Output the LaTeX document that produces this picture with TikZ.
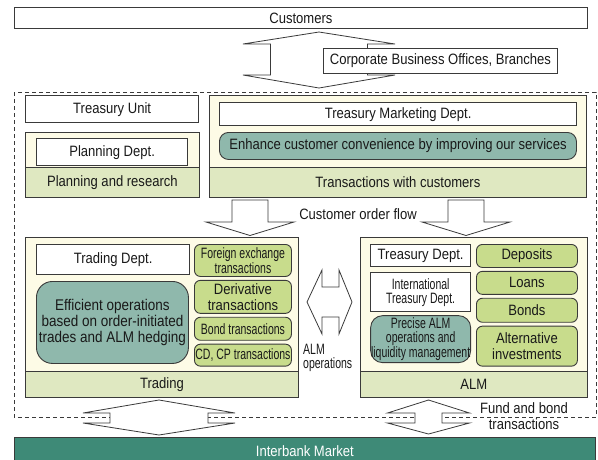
\documentclass[tikz,border=0pt]{standalone}
\usepackage{fontspec}
\setmainfont{Liberation Sans}[FakeStretch=0.87]
\newfontfamily\narrowfont{Liberation Sans}[FakeStretch=0.70]
\usetikzlibrary{positioning}
\definecolor{edge}{HTML}{3A3A3A}
\definecolor{cream}{HTML}{FDFBE6}
\definecolor{bandgreen}{HTML}{DFE8C1}
\definecolor{itemgreen}{HTML}{C8DC8C}
\definecolor{tealfill}{HTML}{8FB8AC}
\definecolor{marketteal}{HTML}{3E8A77}
\newcommand{\mainfs}{\fontsize{15}{16}\selectfont}
\newcommand{\narrowfs}{\narrowfont\fontsize{15}{13.8}\selectfont}
% vertical block arrow: centre x, shaft half, head half, top tip, top base, bottom base, bottom tip
\newcommand{\vblock}[7]{%
  \draw[blockarr] (#1,#4) -- (#1+#3,#5) -- (#1+#2,#5) -- (#1+#2,#6) -- (#1+#3,#6)
    -- (#1,#7) -- (#1-#3,#6) -- (#1-#2,#6) -- (#1-#2,#5) -- (#1-#3,#5) -- cycle;}
% down block arrow: centre x, shaft half, head half
\newcommand{\dblock}[3]{%
  \draw[blockarr] (#1-#2,200) -- (#1+#2,200) -- (#1+#2,222) -- (#1+#3,222)
    -- (#1,235.5) -- (#1-#3,222) -- (#1-#2,222) -- cycle;}
\tikzset{
  size/.style 2 args={minimum width=#1, minimum height=#2},
  base/.style={anchor=north west, inner sep=0pt, align=center, font=\mainfs, text=black!90},
  plainbox/.style={base, draw=edge, line width=0.9pt, fill=white},
  deptbox/.style={base, draw=edge, line width=1.3pt, fill=white},
  group/.style={base, draw=edge, line width=0.8pt, fill=cream},
  band/.style={base, draw=edge, line width=0.8pt, fill=bandgreen},
  goal/.style={base, draw=edge, line width=0.9pt, fill=tealfill, rounded corners=7pt},
  item/.style={base, draw=edge, line width=0.9pt, fill=itemgreen, rounded corners=6pt},
  lbl/.style={inner sep=0pt, font=\mainfs, text=black!90},
  blockarr/.style={draw=edge, line width=0.8pt, fill=white, line join=miter},
  outer/.style={draw=edge, line width=0.8pt, dash pattern=on 4pt off 3pt}
}
\begin{document}
\begin{tikzpicture}[x=1pt, y=-1pt]
  \useasboundingbox (0,0) rectangle (598,459);

  % customers and branch offices
  \node[plainbox, size={573}{21}] (cust) at (14,7) {Customers};
  \vblock{319}{48.5}{76}{32}{44}{75}{88}
  \node[plainbox, size={234}{25}] (corp) at (323,48) {Corporate Business Offices, Branches};

  % treasury unit frame
  \draw[outer] (14,92) rectangle (596,417);

  \node[deptbox, size={173}{27}] (tunit) at (25,95) {Treasury Unit};
  \node[group, size={174}{65}] (plan) at (25,132) {};
  \node[band, size={174}{30}] (planband) at (25,167) {Planning and research};
  \node[deptbox, size={151}{27}] (plandept) at (36,138) {Planning Dept.};

  \node[group, size={377}{102}] (cus) at (209,95) {};
  \node[band, size={377}{30}] (cusband) at (209,167) {Transactions with customers};
  \node[deptbox, size={357}{23}] (mkt) at (219,102) {Treasury Marketing Dept.};
  \node[goal, size={357}{27}, rounded corners=9pt] (enh) at (219,132)
    {Enhance customer convenience by improving our services};

  % customer order flow
  \dblock{250}{18}{44}
  \dblock{466}{18}{44}
  \node[lbl] (flow) at (358,214) {Customer order flow};

  % trading
  \node[group, size={273}{160}] (trd) at (25,237) {};
  \node[band, size={273}{26}] (trdband) at (25,371) {Trading};
  \node[deptbox, size={153}{30}] (trddept) at (36,244) {Trading Dept.};
  \node[goal, size={152}{82}, rounded corners=16pt, font=\fontsize{15.5}{16}\selectfont] (eff) at (36,281)
    {Efficient operations\\based on order-initiated\\trades and ALM hedging};
  \node[item, size={97}{32}, font=\narrowfs] (fx) at (194,244) {Foreign exchange\\transactions};
  \node[item, size={97}{33}, below=3pt of fx] (deriv) {Derivative\\transactions};
  \node[item, size={97}{23}, font=\narrowfs, below=3pt of deriv] (bondtr) {Bond transactions};
  \node[item, size={97}{22}, font=\narrowfs, below=3pt of bondtr] (cdcp) {CD, CP transactions};

  % ALM operations
  \draw[blockarr] (307,302) -- (322,270) -- (322,287) -- (339,287) -- (339,270) -- (352,302)
    -- (339,334) -- (339,317) -- (322,317) -- (322,334) -- cycle;
  \node[lbl, font=\narrowfs, anchor=north west, align=left] (almop) at (303,344) {ALM\\operations};

  % ALM
  \node[group, size={227}{160}] (alm) at (360,237) {};
  \node[band, size={227}{26}] (almband) at (360,371) {ALM};
  \node[deptbox, size={100}{22}] (trsdept) at (370,244) {Treasury Dept.};
  \node[plainbox, size={100}{39}, font=\narrowfs, below=5pt of trsdept] (intl)
    {International\\Treasury Dept.};
  \node[goal, size={100}{47}, rounded corners=12pt, font=\narrowfs, below=3pt of intl] (prec)
    {Precise ALM\\operations and\\liquidity management};
  \node[item, size={101}{23}] (dep) at (476,244) {Deposits};
  \node[item, size={101}{23}, below=3pt of dep] (loan) {Loans};
  \node[item, size={101}{24}, below=3pt of loan] (bond) {Bonds};
  \node[item, size={101}{40}, below=3pt of bond] (alt) {Alternative\\investments};

  % interbank market
  \vblock{159}{49}{76}{400}{413}{423}{435}
  \vblock{428.5}{13.5}{41}{400}{413}{423}{434}
  \node[lbl, align=center] (fund) at (524,416) {Fund and bond\\transactions};
  \node[base, draw=edge, line width=0.8pt, fill=marketteal, text=white, size={581}{28}] (ibm) at (14,437)
    {Interbank Market};
\end{tikzpicture}
\end{document}
